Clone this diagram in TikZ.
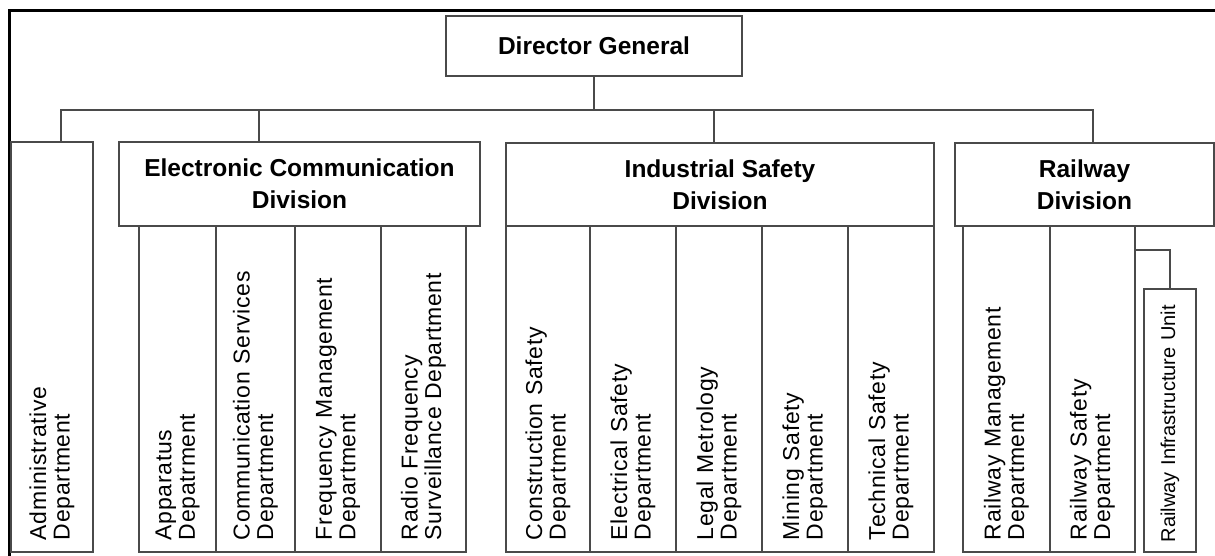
\documentclass[tikz,border=0pt]{standalone}
\usepackage{fontspec}
\setmainfont{Liberation Sans}
\newfontfamily\deptfam[LetterSpace=3]{Liberation Sans}
\usepackage{tikz}
\definecolor{linegray}{HTML}{4A4A4A}
\newcommand{\headfont}{\fontsize{24.5}{32}\selectfont\bfseries}
\newcommand{\deptfont}{\deptfam\fontsize{23}{23.5}\selectfont}
\tikzset{
  frame/.style={line width=3pt, black},
  link/.style={draw=linegray, line width=1.4pt},
  head/.style={link, align=center, inner sep=0pt, font=\headfont},
  dept/.style={link, rotate=90, inner sep=0pt, align=left, font=\deptfont,
    minimum width=326, text width=302},
}
\begin{document}
\begin{tikzpicture}[x=1pt,y=-1pt]
        \useasboundingbox (0,0) rectangle (1215,555);
        % frame
        \draw[frame] (9,560) -- (9,10) -- (1220,10);

        % top
        \node[head, minimum width=296, minimum height=60] (dg) at (594,46) {Director General};

        % divisions
        \node[head, minimum width=361, minimum height=84] (ecd) at (299.5,184) {Electronic Communication\\Division};
        \node[head, minimum width=428, minimum height=83] (isd) at (720,184.5) {Industrial Safety\\Division};
        \node[head, minimum width=259, minimum height=83] (rail) at (1084.5,184.5) {Railway\\Division};
        \node[dept, minimum width=410, text width=386, minimum height=82] (admin) at (52,347) {Administrative\\Department};

        % bus
        \coordinate (b1) at (61,110);
        \coordinate (b2) at (259,110);
        \coordinate (b3) at (714,110);
        \coordinate (b4) at (1093,110);
        \draw[link] (dg.south) -- (dg.south |- b1);
        \draw[link] (b1 |- admin.east) -- (b1) -- (b4) -- (b4 |- rail.north);
        \draw[link] (b2) -- (b2 |- ecd.north);
        \draw[link] (b3) -- (b3 |- isd.north);

        % electronic communication
        \node[dept, minimum height=77] (app) at (177.5,389) {Apparatus\\Depatrment};
        \node[dept, minimum height=79] (comm) at (255.5,389) {Communication Services\\Department};
        \node[dept, minimum height=86] (freq) at (338,389) {Frequency Management\\Department};
        \node[dept, minimum height=85] (radio) at (423.5,389) {Radio Frequency\\Surveillance Department};

        % industrial safety
        \node[dept, minimum height=84] (cons) at (548,389) {Construction Safety\\Department};
        \node[dept, minimum height=86] (elec) at (633,389) {Electrical Safety\\Department};
        \node[dept, minimum height=86] (legal) at (719,389) {Legal Metrology\\Department};
        \node[dept, minimum height=86] (mining) at (805,389) {Mining Safety\\Department};
        \node[dept, minimum height=86] (tech) at (891,389) {Technical Safety\\Department};

        % railway
        \node[dept, minimum height=87] (rman) at (1006.5,389) {Railway Management\\Department};
        \node[dept, minimum height=85] (rsafe) at (1092.5,389) {Railway Safety\\Department};
        \node[dept, minimum width=263, text width=243, minimum height=52,
          font=\fontsize{20}{21}\selectfont] (riu) at (1170,420.5) {Railway Infrastructure Unit};
        \coordinate (rj) at (1135,250);
        \draw[link] (rj) -| (riu.east);

    \end{tikzpicture}
\end{document}
